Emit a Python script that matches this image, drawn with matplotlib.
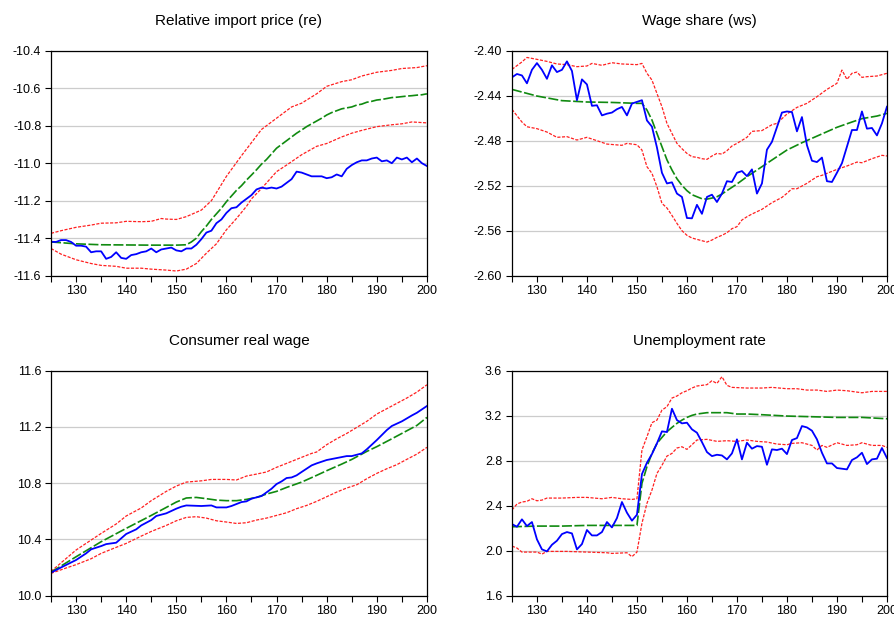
import matplotlib
matplotlib.use("Agg")
import matplotlib.pyplot as plt
from matplotlib.ticker import FormatStrFormatter, MultipleLocator

plt.rcParams["font.family"] = ["Liberation Sans", "DejaVu Sans"]

years = list(range(125, 201))

# ---- Relative import price (re)
re_actual = [-11.419, -11.42, -11.41, -11.41, -11.42, -11.44, -11.44, -11.445, -11.475, -11.47,
             -11.47, -11.51, -11.50, -11.475, -11.505, -11.51, -11.49, -11.485, -11.475, -11.47,
             -11.455, -11.475, -11.46, -11.455, -11.45, -11.465, -11.47, -11.455, -11.455, -11.435,
             -11.405, -11.37, -11.36, -11.32, -11.30, -11.265, -11.24, -11.235, -11.21, -11.19,
             -11.17, -11.14, -11.13, -11.135, -11.13, -11.135, -11.125, -11.105, -11.085, -11.045,
             -11.05, -11.06, -11.07, -11.07, -11.07, -11.08, -11.075, -11.06, -11.07, -11.03,
             -11.01, -10.995, -10.985, -10.985, -10.975, -10.97, -10.99, -10.985, -11.00, -10.97,
             -10.98, -10.97, -10.995, -10.975, -11.00, -11.015]
re_fc_x = [125, 130, 135, 140, 145, 150, 152, 153, 154, 155, 156, 157, 158, 159, 160, 161, 162, 163,
           164, 165, 166, 167, 168, 169, 170, 171, 172, 173, 174, 175, 176, 177, 178, 179, 180, 181,
           182, 183, 184, 185, 186, 187, 188, 189, 190, 191, 192, 193, 194, 195, 196, 197, 198, 199, 200]
re_fc = [-11.42, -11.43, -11.435, -11.436, -11.437, -11.437, -11.435, -11.42, -11.40, -11.365,
         -11.335, -11.30, -11.27, -11.24, -11.205, -11.175, -11.145, -11.12, -11.09, -11.063,
         -11.035, -11.005, -10.98, -10.95, -10.92, -10.90, -10.88, -10.86, -10.84, -10.823,
         -10.805, -10.79, -10.775, -10.76, -10.743, -10.73, -10.72, -10.71, -10.705, -10.70,
         -10.69, -10.685, -10.675, -10.67, -10.663, -10.66, -10.655, -10.65, -10.648, -10.645,
         -10.642, -10.64, -10.637, -10.635, -10.63]
re_up_x = [125, 127, 130, 133, 135, 138, 140, 143, 145, 147, 148, 150, 152, 155, 157, 160, 163,
           165, 167, 170, 173, 175, 178, 180, 183, 185, 187, 190, 193, 195, 198, 200]
re_up = [-11.374, -11.36, -11.342, -11.33, -11.32, -11.318, -11.31, -11.312, -11.31, -11.295,
         -11.298, -11.30, -11.285, -11.25, -11.20, -11.07, -10.96, -10.89, -10.82, -10.76,
         -10.70, -10.68, -10.63, -10.59, -10.565, -10.555, -10.535, -10.515, -10.505, -10.495,
         -10.49, -10.48]
re_lo_x = [125, 127, 130, 133, 135, 138, 140, 143, 145, 148, 150, 152, 154, 156, 158, 160, 162,
           164, 165, 167, 170, 172, 175, 178, 180, 183, 185, 187, 190, 193, 195, 197, 200]
re_lo = [-11.455, -11.485, -11.515, -11.535, -11.545, -11.55, -11.56, -11.56, -11.565, -11.57,
         -11.575, -11.565, -11.535, -11.48, -11.43, -11.355, -11.295, -11.23, -11.19, -11.135,
         -11.045, -11.01, -10.955, -10.91, -10.895, -10.86, -10.84, -10.825, -10.805, -10.795,
         -10.79, -10.78, -10.785]

# ---- Wage share (ws)
ws_actual = [-2.4237, -2.4207, -2.422, -2.429, -2.417, -2.411, -2.417, -2.425, -2.413, -2.419,
             -2.417, -2.4095, -2.418, -2.444, -2.4255, -2.430, -2.449, -2.4485, -2.4575, -2.456,
             -2.455, -2.452, -2.450, -2.4575, -2.447, -2.4455, -2.444, -2.462, -2.4675, -2.486,
             -2.5085, -2.518, -2.517, -2.527, -2.530, -2.5487, -2.549, -2.537, -2.545, -2.530,
             -2.528, -2.5345, -2.527, -2.516, -2.5167, -2.5085, -2.507, -2.5115, -2.5055, -2.527,
             -2.518, -2.488, -2.481, -2.468, -2.455, -2.454, -2.4545, -2.4717, -2.459, -2.484,
             -2.4978, -2.499, -2.495, -2.516, -2.5167, -2.5085, -2.500, -2.4853, -2.4705, -2.4705,
             -2.454, -2.4693, -2.4687, -2.4753, -2.4646, -2.4498]
ws_fc_x = [125, 130, 135, 140, 145, 150, 151, 152, 153, 154, 155, 156, 157, 158, 159, 160, 161,
           162, 163, 164, 165, 166, 167, 168, 170, 172, 175, 178, 180, 183, 185, 188, 190, 193,
           195, 198, 200]
ws_fc = [-2.4344, -2.4403, -2.4444, -2.4456, -2.446, -2.4468, -2.4468, -2.4527, -2.4616, -2.4735,
         -2.4853, -2.497, -2.506, -2.5138, -2.5197, -2.5244, -2.528, -2.5298, -2.5316, -2.5319,
         -2.531, -2.5298, -2.5274, -2.5244, -2.5185, -2.512, -2.5031, -2.4942, -2.4883, -2.4818,
         -2.4779, -2.472, -2.4681, -2.4634, -2.4604, -2.4581, -2.4557]
ws_up_x = [125, 127, 128, 130, 132, 134, 136, 138, 140, 141, 143, 145, 147, 150, 151, 152, 153,
           154, 155, 156, 157, 158, 159, 160, 161, 162, 163, 164, 165, 166, 167, 168, 169, 170,
           172, 173, 175, 177, 178, 180, 182, 184, 186, 188, 190, 191, 192, 193, 194, 195, 196,
           198, 200]
ws_up = [-2.4166, -2.410, -2.406, -2.4077, -2.4095, -2.4118, -2.4124, -2.4142, -2.4136, -2.4113,
         -2.413, -2.4107, -2.4118, -2.4124, -2.4113, -2.4201, -2.4261, -2.438, -2.4498, -2.4646,
         -2.4735, -2.4824, -2.4871, -2.4913, -2.4942, -2.4948, -2.496, -2.4966, -2.4936, -2.4913,
         -2.4919, -2.4889, -2.4847, -2.4824, -2.477, -2.4717, -2.471, -2.4658, -2.4646, -2.4563,
         -2.4504, -2.4468, -2.4409, -2.4344, -2.429, -2.4172, -2.4255, -2.4201, -2.419, -2.4237,
         -2.4231, -2.4225, -2.4201]
ws_lo_x = [125, 127, 128, 130, 132, 134, 136, 138, 140, 142, 144, 147, 148, 150, 151, 152, 153,
           154, 155, 156, 157, 158, 159, 160, 161, 162, 163, 164, 165, 166, 167, 168, 169, 170,
           171, 172, 173, 175, 177, 179, 180, 181, 182, 184, 186, 187, 188, 190, 192, 194, 195,
           197, 199, 200]
ws_lo = [-2.4521, -2.4634, -2.4676, -2.4693, -2.4723, -2.477, -2.4764, -2.4794, -2.477, -2.48,
         -2.483, -2.4841, -2.4824, -2.4836, -2.4883, -2.5031, -2.509, -2.5209, -2.5357, -2.5398,
         -2.5464, -2.5535, -2.56, -2.5641, -2.5665, -2.5677, -2.5689, -2.5701, -2.5683, -2.5659,
         -2.5641, -2.5618, -2.5582, -2.5564, -2.5505, -2.5476, -2.5452, -2.541, -2.5351, -2.5304,
         -2.5268, -2.5227, -2.5227, -2.5179, -2.512, -2.5108, -2.509, -2.5055, -2.5025, -2.499,
         -2.4996, -2.496, -2.493, -2.4936]

# ---- Consumer real wage
cw_act_x = [125, 127, 130, 132, 133, 135, 136, 138, 140, 142, 143, 145, 146, 148, 150, 151, 152,
            155, 157, 158, 160, 161, 163, 164, 165, 167, 169, 170, 171, 172, 173, 174, 175, 177,
            178, 180, 182, 184, 185, 187, 188, 190, 192, 193, 195, 197, 198, 200]
cw_actual = [10.164, 10.201, 10.254, 10.301, 10.33, 10.353, 10.367, 10.377, 10.439, 10.472, 10.50,
             10.538, 10.567, 10.586, 10.619, 10.633, 10.642, 10.638, 10.642, 10.628, 10.628,
             10.638, 10.666, 10.671, 10.69, 10.709, 10.761, 10.794, 10.813, 10.837, 10.841,
             10.856, 10.88, 10.927, 10.941, 10.965, 10.979, 10.993, 10.993, 11.012, 11.041,
             11.107, 11.178, 11.207, 11.24, 11.282, 11.301, 11.349]
cw_fc_x = [125, 130, 135, 140, 145, 150, 152, 154, 156, 158, 160, 162, 164, 166, 168, 170, 172,
           175, 178, 180, 183, 185, 188, 190, 193, 195, 198, 200]
cw_fc = [10.168, 10.277, 10.384, 10.479, 10.571, 10.666, 10.695, 10.699, 10.69, 10.68, 10.676,
         10.676, 10.685, 10.699, 10.723, 10.742, 10.77, 10.808, 10.856, 10.889, 10.936, 10.969,
         11.026, 11.06, 11.116, 11.154, 11.211, 11.268]
cw_up_x = [125, 130, 133, 135, 138, 140, 143, 145, 148, 150, 152, 155, 157, 160, 162, 164, 166,
           168, 170, 172, 175, 177, 178, 180, 182, 184, 186, 188, 190, 192, 194, 196, 198, 200]
cw_up = [10.173, 10.325, 10.396, 10.443, 10.51, 10.567, 10.624, 10.676, 10.742, 10.78, 10.808,
         10.817, 10.827, 10.827, 10.823, 10.851, 10.865, 10.88, 10.913, 10.941, 10.984, 11.012,
         11.022, 11.074, 11.116, 11.154, 11.197, 11.24, 11.292, 11.33, 11.368, 11.406, 11.448,
         11.50]
cw_lo_x = [125, 128, 130, 133, 135, 138, 140, 143, 145, 148, 150, 152, 154, 156, 158, 160, 162,
           164, 166, 168, 170, 172, 174, 176, 178, 180, 182, 184, 186, 188, 190, 192, 194, 196,
           198, 200]
cw_lo = [10.159, 10.197, 10.221, 10.263, 10.301, 10.344, 10.372, 10.424, 10.457, 10.50, 10.533,
         10.557, 10.562, 10.552, 10.533, 10.524, 10.514, 10.519, 10.538, 10.552, 10.571, 10.59,
         10.619, 10.642, 10.671, 10.704, 10.737, 10.766, 10.789, 10.832, 10.87, 10.903, 10.932,
         10.97, 11.007, 11.055]

# ---- Unemployment rate
ur_actual = [2.237, 2.213, 2.279, 2.219, 2.255, 2.101, 2.012, 1.994, 2.053, 2.089,
             2.148, 2.166, 2.154, 2.012, 2.059, 2.184, 2.136, 2.136, 2.166, 2.255,
             2.207, 2.29, 2.433, 2.338, 2.267, 2.32, 2.681, 2.782, 2.859, 2.954,
             3.061, 3.055, 3.262, 3.161, 3.132, 3.138, 3.079, 3.049, 2.966, 2.877,
             2.841, 2.853, 2.847, 2.812, 2.865, 2.99, 2.812, 2.96, 2.907, 2.93,
             2.924, 2.764, 2.901, 2.895, 2.907, 2.859, 2.984, 3.001, 3.108, 3.096,
             3.067, 2.99, 2.871, 2.776, 2.776, 2.735, 2.729, 2.723, 2.806, 2.83,
             2.871, 2.77, 2.812, 2.818, 2.913, 2.824]
ur_fc_x = [125, 130, 135, 140, 145, 150, 151, 152, 153, 154, 155, 156, 157, 158, 159, 160, 161,
           162, 163, 164, 166, 168, 170, 172, 175, 180, 185, 190, 195, 200]
ur_fc = [2.213, 2.219, 2.219, 2.225, 2.225, 2.225, 2.599, 2.747, 2.865, 2.954, 3.007, 3.058,
         3.096, 3.132, 3.161, 3.185, 3.203, 3.215, 3.221, 3.227, 3.227, 3.227, 3.215, 3.215,
         3.209, 3.197, 3.191, 3.185, 3.185, 3.173]
ur_up_x = [125, 126, 127, 128, 129, 130, 131, 132, 135, 138, 140, 143, 145, 147, 149, 150, 151,
           152, 153, 154, 155, 156, 157, 158, 159, 160, 161, 162, 163, 164, 165, 166, 167, 168,
           169, 172, 175, 177, 180, 182, 184, 186, 188, 190, 192, 194, 195, 197, 200]
ur_up = [2.362, 2.415, 2.433, 2.439, 2.462, 2.444, 2.45, 2.468, 2.468, 2.474, 2.474, 2.462,
         2.474, 2.462, 2.456, 2.462, 2.895, 3.013, 3.138, 3.161, 3.25, 3.28, 3.357, 3.375,
         3.404, 3.422, 3.446, 3.464, 3.47, 3.476, 3.511, 3.487, 3.547, 3.47, 3.452, 3.446,
         3.446, 3.452, 3.44, 3.44, 3.428, 3.428, 3.416, 3.428, 3.422, 3.41, 3.404, 3.416, 3.416]
ur_lo_x = [125, 126, 127, 130, 131, 132, 136, 140, 144, 145, 148, 149, 150, 151, 152, 153, 154,
           155, 156, 157, 158, 159, 160, 161, 162, 164, 166, 168, 170, 172, 174, 176, 178, 180,
           181, 183, 185, 186, 187, 188, 190, 192, 194, 195, 197, 199, 200]
ur_lo = [2.041, 2.024, 1.988, 1.988, 1.97, 1.994, 1.994, 1.988, 1.982, 1.976, 1.982, 1.947,
         1.988, 2.243, 2.421, 2.539, 2.687, 2.759, 2.841, 2.865, 2.913, 2.924, 2.901, 2.942,
         2.984, 2.99, 2.972, 2.978, 2.972, 2.984, 2.972, 2.966, 2.948, 2.942, 2.954, 2.96,
         2.936, 2.895, 2.936, 2.919, 2.96, 2.936, 2.942, 2.96, 2.936, 2.936, 2.919]

panels = [
    ("Relative import price (re)", years, re_actual, re_fc_x, re_fc, re_up_x, re_up, re_lo_x, re_lo,
     (-11.6, -10.4), 0.2, "%.1f"),
    ("Wage share (ws)", years, ws_actual, ws_fc_x, ws_fc, ws_up_x, ws_up, ws_lo_x, ws_lo,
     (-2.60, -2.40), 0.04, "%.2f"),
    ("Consumer real wage", cw_act_x, cw_actual, cw_fc_x, cw_fc, cw_up_x, cw_up, cw_lo_x, cw_lo,
     (10.0, 11.6), 0.4, "%.1f"),
    ("Unemployment rate", years, ur_actual, ur_fc_x, ur_fc, ur_up_x, ur_up, ur_lo_x, ur_lo,
     (1.6, 3.6), 0.4, "%.1f"),
]

fig = plt.figure(figsize=(8.95, 6.19), dpi=100)
positions = [
    [0.057, 0.5546, 0.420, 0.3635],
    [0.572, 0.5546, 0.419, 0.3635],
    [0.057, 0.0376, 0.420, 0.3635],
    [0.572, 0.0376, 0.419, 0.3635],
]

for pos, (title, ax_x, act, fx, fc, ux, up, lx, lo, ylim, step, fmt) in zip(positions, panels):
    ax = fig.add_axes(pos)
    ax.plot(ux, up, color="#ff2020", lw=0.9, ls=(0, (2.5, 1.2)))
    ax.plot(lx, lo, color="#ff2020", lw=0.9, ls=(0, (2.5, 1.2)))
    ax.plot(fx, fc, color="#108a10", lw=1.2, ls=(0, (6, 1.5)))
    ax.plot(ax_x, act, color="#0000ff", lw=1.3)

    ax.set_xlim(125, 200)
    ax.set_ylim(*ylim)
    ax.xaxis.set_major_locator(MultipleLocator(10))
    ax.xaxis.set_minor_locator(MultipleLocator(5))
    ax.yaxis.set_major_locator(MultipleLocator(step))
    ax.yaxis.set_major_formatter(FormatStrFormatter(fmt))
    ax.grid(axis="y", color="#cccccc", lw=0.9)
    ax.set_axisbelow(True)
    ax.tick_params(axis="both", which="both", direction="out", length=4, width=0.8,
                   labelsize=9, colors="black", pad=3)
    ax.tick_params(top=False, right=False)
    for sp in ax.spines.values():
        sp.set_linewidth(0.9)
    ax.text(0.5, 1.13, title, transform=ax.transAxes, ha="center", va="center", fontsize=11)

fig.savefig("out.png", dpi=100)
